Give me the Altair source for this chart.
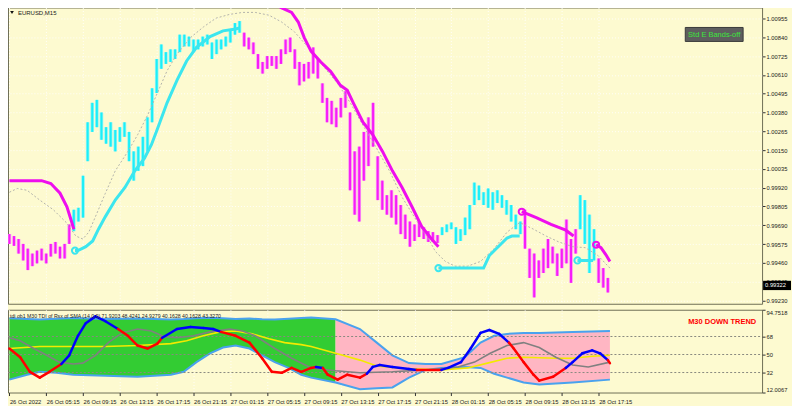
import json
import altair as alt
import pandas as pd

# ---------------- data ----------------
x_labels = ["26 Oct 2022", "26 Oct 05:15", "26 Oct 09:15", "26 Oct 13:15", "26 Oct 17:15",
            "26 Oct 21:15", "27 Oct 01:15", "27 Oct 05:15", "27 Oct 09:15", "27 Oct 13:15",
            "27 Oct 17:15", "27 Oct 21:15", "28 Oct 01:15", "28 Oct 05:15", "28 Oct 09:15",
            "28 Oct 13:15", "28 Oct 17:15"]
bars_per_label = 16

price_ticks = [0.99230, 0.99345, 0.99460, 0.99575, 0.99690, 0.99805, 0.99920, 1.00035,
               1.00150, 1.00265, 1.00380, 1.00495, 1.00610, 1.00725, 1.00840, 1.00955]
current_price = 0.99322

# candles (one entry per two M15 bars): high / low
candle_hi = [0.99636, 0.99624, 0.99606, 0.99576, 0.99547, 0.99517, 0.99535, 0.99547, 0.99517, 0.99576,
             0.99588, 0.99559, 0.99576, 0.99695, 0.99785, 0.99797, 0.99993, 1.00320, 1.00439, 1.00457,
             1.00380, 1.00290, 1.00320, 1.00273, 1.00290, 1.00320, 1.00261, 1.00142, 1.00171, 1.00231,
             1.00350, 1.00528, 1.00707, 1.00796, 1.00749, 1.00766, 1.00766, 1.00856, 1.00856, 1.00844,
             1.00826, 1.00826, 1.00844, 1.00856, 1.00808, 1.00826, 1.00826, 1.00844, 1.00885, 1.00927,
             1.00939, 1.00868, 1.00838, 1.00808, 1.00737, 1.00689, 1.00725, 1.00725, 1.00725, 1.00766,
             1.00826, 1.00838, 1.00766, 1.00689, 1.00677, 1.00689, 1.00778, 1.00707, 1.00558, 1.00469,
             1.00451, 1.00409, 1.00469, 1.00510, 1.00380, 1.00142, 1.00171, 1.00261, 1.00350, 1.00439,
             1.00112, 0.99963, 0.99874, 0.99904, 0.99874, 0.99814, 0.99755, 0.99713, 0.99695, 0.99707,
             0.99678, 0.99654, 0.99648, 0.99630, 0.99678, 0.99695, 0.99707, 0.99678, 0.99666, 0.99737,
             0.99814, 0.99951, 0.99933, 0.99892, 0.99915, 0.99892, 0.99904, 0.99874, 0.99844, 0.99814,
             0.99755, 0.99713, 0.99785, 0.99547, 0.99517, 0.99475, 0.99547, 0.99606, 0.99559, 0.99517,
             0.99547, 0.99725, 0.99606, 0.99666, 0.99874, 0.99844, 0.99755, 0.99666, 0.99487, 0.99428,
             0.99368]
candle_lo = [0.99576, 0.99564, 0.99517, 0.99475, 0.99416, 0.99440, 0.99457, 0.99475, 0.99457, 0.99499,
             0.99517, 0.99487, 0.99487, 0.99576, 0.99654, 0.99713, 0.99737, 1.00082, 1.00261, 1.00290,
             1.00213, 1.00189, 1.00171, 1.00142, 1.00201, 1.00231, 1.00082, 0.99963, 1.00023, 1.00052,
             1.00142, 1.00320, 1.00499, 1.00647, 1.00677, 1.00689, 1.00707, 1.00749, 1.00784, 1.00784,
             1.00749, 1.00766, 1.00784, 1.00796, 1.00707, 1.00737, 1.00766, 1.00784, 1.00808, 1.00856,
             1.00868, 1.00784, 1.00766, 1.00737, 1.00647, 1.00618, 1.00647, 1.00665, 1.00647, 1.00677,
             1.00737, 1.00749, 1.00647, 1.00546, 1.00570, 1.00588, 1.00618, 1.00588, 1.00439, 1.00320,
             1.00308, 1.00290, 1.00350, 1.00409, 0.99904, 0.99755, 0.99713, 0.99963, 1.00052, 1.00171,
             0.99844, 0.99785, 0.99755, 0.99737, 0.99695, 0.99636, 0.99606, 0.99559, 0.99594, 0.99618,
             0.99606, 0.99588, 0.99588, 0.99582, 0.99630, 0.99648, 0.99666, 0.99576, 0.99594, 0.99630,
             0.99666, 0.99814, 0.99844, 0.99814, 0.99797, 0.99785, 0.99826, 0.99797, 0.99755, 0.99713,
             0.99666, 0.99636, 0.99547, 0.99368, 0.99249, 0.99368, 0.99398, 0.99428, 0.99457, 0.99380,
             0.99428, 0.99457, 0.99338, 0.99517, 0.99666, 0.99576, 0.99398, 0.99475, 0.99338, 0.99309,
             0.99279]
bars_per_candle = 2
trend_runs = [("dn", 14), ("up", 37), ("dn", 43), ("up", 18), ("dn", 12), ("up", 4), ("dn", 3)]

# trend stop line segments: (trend, bar positions, prices, ring marker at start)
trend_segments = [
    ("dn", [0, 14, 18, 22, 25, 27, 28],
     [0.99963, 0.99963, 0.99945, 0.99886, 0.99803, 0.99713, 0.99666], False),
    ("up", [28.5, 29.8, 33.2, 36.2, 38.7, 41.7, 46, 50.2, 54.5, 58.7, 61.7, 64.3, 68.5, 72.8, 77,
            81.3, 87.2, 92.8, 98.3, 100],
     [0.99535, 0.99535, 0.99559, 0.99594, 0.99666, 0.99743, 0.99844, 0.99921, 1.00023, 1.00100,
      1.00183, 1.00279, 1.00439, 1.00576, 1.00695, 1.00778, 1.00844, 1.00879, 1.00891, 1.00897], True),
    ("dn", [114.9, 117.9, 122.6, 125.5, 128.1, 131.1, 135.3, 139.6, 143.8, 146.8, 149.4, 153.6,
            157.9, 162.1, 166.4, 170.6, 174.9, 179.1, 183.4, 186.4],
     [1.01070, 1.01022, 1.00992, 1.00933, 1.00838, 1.00754, 1.00689, 1.00630, 1.00546, 1.00516,
      1.00439, 1.00320, 1.00243, 1.00142, 1.00023, 0.99921, 0.99803, 0.99683, 0.99606, 0.99559], False),
    ("up", [186.4, 206, 208.5, 212.8, 216.2, 218.3, 221.7],
     [0.99428, 0.99428, 0.99505, 0.99565, 0.99612, 0.99624, 0.99624], True),
    ("dn", [222.6, 228.9, 235.3, 241.7, 245.1],
     [0.99773, 0.99737, 0.99695, 0.99660, 0.99624], True),
    ("up", [246.8, 253.6], [0.99475, 0.99475], True),
    ("dn", [254.9, 257, 259.1, 260.9], [0.99571, 0.99553, 0.99511, 0.99469], True),
]

# slow dotted average
ma_bar = [0, 3.4, 7.7, 13.2, 19.1, 24.7, 28.9, 31.9, 34.5, 37.4, 41.7, 46, 51.5, 55.7, 60, 64.3,
          68.5, 72.8, 78.7, 84.3, 89.8, 95.7, 101.3, 106.8, 112.8, 118.3, 123.8, 129.8, 136.6,
          142.6, 148.1, 153.6, 159.6, 165.1, 170.6, 176.6, 182.1, 185.1, 189.4, 193.6, 199.1,
          204.7, 210.6, 216.2, 221.7, 227.7, 233.2, 238.7, 244.7, 250.2, 255.7, 260.9]
ma_price = [0.99892, 0.99915, 0.99904, 0.99844, 0.99785, 0.99707, 0.99624, 0.99606, 0.99648,
            0.99743, 0.99886, 1.00023, 1.00142, 1.00243, 1.00362, 1.00499, 1.00635, 1.00737,
            1.00838, 1.00903, 1.00957, 1.00980, 1.00992, 1.00992, 1.00975, 1.00933, 1.00874,
            1.00778, 1.00659, 1.00558, 1.00439, 1.00302, 1.00159, 1.00023, 0.99862, 0.99725,
            0.99606, 0.99529, 0.99469, 0.99440, 0.99440, 0.99469, 0.99547, 0.99648, 0.99707,
            0.99666, 0.99624, 0.99588, 0.99559, 0.99553, 0.99505, 0.99428]

# ---- TDI panel ----
tdi_ticks = [12.0067, 32, 50, 68, 94.7518]
tdi_levels = [68, 50, 32]
band_bar = [0, 7.7, 13.2, 20.4, 27.7, 41.7, 55.7, 70.2, 75.7, 81.3, 87.2, 92.8, 98.3, 104.3,
            109.8, 115.3, 121.3, 126.8, 131.1, 141.7, 152.3, 159.6, 166.4, 173.6, 180.9, 187.7,
            197.9, 204.7, 210.6, 216.2, 223.4, 230.2, 244.7, 260.9]
band_up = [86.2, 85.6, 85.0, 85.8, 86.5, 85.4, 86.0, 85.0, 85.5, 86.3, 86.8, 86.2, 85.6, 85.9,
           85.2, 84.9, 85.8, 86.4, 87.0, 85.2, 75.5, 61.9, 49.2, 41.4, 40.5, 40.5, 47.3, 61.9,
           68.7, 70.6, 71.6, 71.6, 72.6, 73.5]
band_dn = [24.9, 29.8, 32.7, 31.7, 29.8, 28.8, 27.8, 29.8, 32.7, 42.4, 51.2, 57.0, 59.0, 56.0,
           49.2, 42.4, 36.6, 29.8, 26.9, 22.0, 15.2, 16.2, 17.1, 26.9, 34.6, 36.6, 37.6, 36.6,
           30.8, 26.9, 22.0, 20.0, 22.0, 24.9]
trend_switch_bar = 141.7

base_bar = [0, 13.2, 27.7, 41.7, 55.7, 70.2, 77, 84.3, 91.5, 98.3, 105.5, 112.8, 119.6, 126.8,
            131.1, 141.7, 152.3, 159.6, 173.6, 187.7, 199.1, 207.7, 216.2, 223.4, 237.4, 244.7,
            253.2, 260.9]
base_val = [56.0, 58.0, 58.0, 58.0, 59.0, 60.9, 63.8, 68.7, 72.6, 73.5, 70.6, 65.8, 61.9, 59.9,
            58.0, 51.2, 44.4, 38.5, 35.6, 34.6, 36.6, 41.4, 46.3, 47.3, 46.3, 46.3, 48.2, 49.2]

slow_bar = [0, 4.7, 10.6, 16.2, 21.7, 27.7, 31.9, 37.4, 43, 48.9, 55.7, 61.7, 67.2, 72.8, 80,
            87.2, 95.7, 101.3, 106.8, 115.3, 122.6, 131.1, 141.7, 152.3, 166.4, 180.9, 194.9,
            202.1, 208.9, 216.2, 223.4, 230.2, 237.4, 244.7, 251.5, 260.9]
slow_val = [66.7, 63.8, 56.0, 49.2, 42.4, 40.5, 41.4, 49.2, 61.9, 71.6, 75.5, 73.5, 67.7, 66.7,
            68.7, 72.6, 75.5, 73.5, 68.7, 56.0, 46.3, 36.6, 33.7, 31.7, 32.7, 34.6, 37.6, 42.4,
            51.2, 59.0, 61.9, 57.0, 47.3, 39.5, 37.6, 42.4]

rsi_bar = [0, 4.7, 8.9, 13.2, 17.4, 22.6, 26, 29.8, 33.2, 37.4, 41.7, 47.2, 51.5, 55.7, 60, 64.3,
           66.4, 72.8, 78.7, 84.3, 88.5, 91.9, 98.3, 104.3, 109.8, 114, 118.3, 122.6, 126.8, 131.1,
           133.2, 136.2, 138.3, 142.6, 146.8, 152.3, 155.3, 157.9, 160.9, 166.4, 173.6, 177,
           187.7, 190.6, 196.2, 200.4, 204.7, 208.5, 212.8, 217, 219.1, 223.4, 227.7, 230.2,
           236.2, 241.7, 244.7, 248.9, 253.2, 256.6, 260, 260.9]
rsi_val = [56.0, 47.3, 32.7, 26.9, 32.7, 40.5, 49.2, 68.7, 81.3, 88.1, 83.3, 75.5, 68.7, 59.0,
           56.0, 60.9, 66.7, 75.5, 77.4, 76.5, 75.5, 72.6, 68.7, 61.9, 46.3, 32.7, 31.7, 36.6,
           32.7, 36.6, 37.6, 36.6, 29.8, 24.9, 29.8, 26.9, 30.8, 37.6, 39.5, 37.6, 35.6, 34.6,
           34.6, 36.6, 42.4, 56.0, 71.6, 74.5, 70.6, 61.9, 56.0, 42.4, 29.8, 23.9, 27.8, 36.6,
           42.4, 51.2, 54.1, 51.2, 44.4, 41.4]
rsi_runs = [("r", 5), ("b", 6), ("r", 5), ("b", 5), ("r", 9), ("b", 1), ("r", 5), ("b", 5),
            ("r", 1), ("b", 7), ("r", 6), ("b", 5), ("r", 1)]

tdi_title = "tdi ob1 M30 TDI of Rsx of SMA (14,0,0) 71.9203 48.4241 24.9279 40.1628 40.1628 43.3270"

# ---------------- style ----------------
W, H1, H2 = 756, 297, 83
BG = "#FDFAD0"
FRAME = "#6E6E55"
GRID = "#FFFFFF"
CYAN = "#1CEFF7"
MAGENTA = "#F81CF8"
CYAN_WICK = "#95F5F4"
MAGENTA_WICK = "#F99AF3"
CYAN_LINE = "#3CE6EE"
MAGENTA_LINE = "#EE0EEE"
FONT = "Liberation Sans"

tick_bars = [i * bars_per_label for i in range(len(x_labels))]
X_SCALE = alt.Scale(domain=[-0.6, 327], nice=False, zero=False)
P_SCALE = alt.Scale(domain=[0.99210, 1.01022], nice=False, zero=False)
T_SCALE = alt.Scale(domain=[12.0067, 94.7518], nice=False, zero=False)

x_main_axis = alt.Axis(values=tick_bars, labels=False, ticks=False, domain=False, grid=True,
                       title=None)
y_main_axis = alt.Axis(orient="right", values=price_ticks, format=".5f", title=None, grid=True,
                       tickSize=3, labelPadding=1, domain=False)


def mx(f):
    return alt.X(f"{f}:Q", scale=X_SCALE, axis=x_main_axis)


def my(f):
    return alt.Y(f"{f}:Q", scale=P_SCALE, axis=y_main_axis)


# ---- main panel dataframes ----
trend_list = []
for t, n in trend_runs:
    trend_list += [t] * n
candles = pd.DataFrame({
    "bar": [k * bars_per_candle for k in range(len(candle_hi))],
    "hi": candle_hi, "lo": candle_lo, "trend": trend_list,
})
candles["body_trend"] = candles["trend"]

seg_rows, ring_rows = [], []
for sid, (t, xs, ps, ring) in enumerate(trend_segments):
    for xv, pv in zip(xs, ps):
        seg_rows.append({"seg": sid, "bar": xv, "price": pv, "line_trend": t})
    if ring:
        ring_rows.append({"bar": xs[0], "price": ps[0], "line_trend": t})
segs = pd.DataFrame(seg_rows)
rings = pd.DataFrame(ring_rows)
ma = pd.DataFrame({"bar": ma_bar, "price": ma_price})
one = pd.DataFrame({"a": [0]})

LINE_COLOR = alt.Scale(domain=["up", "dn"], range=[CYAN_LINE, MAGENTA_LINE])

wick_layer = alt.Chart(candles).mark_rule(strokeWidth=3.6).encode(
    x=mx("bar"), y=my("lo"), y2="hi:Q",
    color=alt.Color("trend:N", scale=alt.Scale(domain=["up", "dn"], range=[CYAN_WICK, MAGENTA_WICK]),
                    legend=None))
body_layer = alt.Chart(candles).mark_rule(strokeWidth=2).encode(
    x=mx("bar"), y=my("lo"), y2="hi:Q",
    color=alt.Color("body_trend:N", scale=alt.Scale(domain=["up", "dn"], range=[CYAN, MAGENTA]),
                    legend=None))

ma_layer = alt.Chart(ma).mark_line(color="#B4B4AC", strokeWidth=1, strokeDash=[2, 2]).encode(
    x=mx("bar"), y=my("price"))

seg_layer = alt.Chart(segs).mark_line(strokeWidth=3, clip=True).encode(
    x=mx("bar"), y=my("price"), detail="seg:N",
    color=alt.Color("line_trend:N", scale=LINE_COLOR, legend=None))

ring_layer = alt.Chart(rings).mark_point(shape="circle", filled=False, size=38, strokeWidth=2,
                                         opacity=1).encode(
    x=mx("bar"), y=my("price"),
    color=alt.Color("line_trend:N", scale=LINE_COLOR, legend=None))

sym_tri = alt.Chart(one).mark_point(shape="triangle-down", filled=True, color="#111111", size=14,
                                    opacity=1).encode(x=alt.value(4), y=alt.value(5))
sym_txt = alt.Chart(one).mark_text(text="EURUSD,M15", font=FONT, fontSize=6, align="left",
                                   baseline="middle", color="#1A1A1A").encode(
    x=alt.value(10), y=alt.value(5.5))

btn = alt.Chart(one).mark_rect(fill="#5E5E5E", stroke="#3A3A3A", strokeWidth=1).encode(
    x=alt.value(679), x2=alt.value(737), y=alt.value(20), y2=alt.value(34))
btn_txt = alt.Chart(one).mark_text(text="Std E Bands-off", font=FONT, fontSize=7.5, align="center",
                                   baseline="middle", color="#3CE63C").encode(
    x=alt.value(708), y=alt.value(27.5))

cur = pd.DataFrame({"p": [current_price]})
cur_box = alt.Chart(cur).mark_point(shape="M-1.5,-0.5H1.5V0.5H-1.5Z", filled=True, color="#000000",
                                    size=348, opacity=1).encode(x=alt.value(W + 15), y=my("p"))
cur_txt = alt.Chart(cur).mark_text(font=FONT, fontSize=5.8, align="left", baseline="middle",
                                   color="#FFFFFF").encode(
    x=alt.value(W + 3), y=my("p"), text=alt.Text("p:Q", format=".5f"))

main = alt.layer(wick_layer, body_layer, ma_layer, seg_layer, ring_layer, sym_tri, sym_txt, btn,
                 btn_txt, cur_box, cur_txt).resolve_scale(color="independent").properties(
    width=W, height=H1)

# ---- TDI panel ----
label_expr = json.dumps(x_labels) + "[round(datum.value / %d)]" % bars_per_label
x_tdi_axis = alt.Axis(values=tick_bars, labelExpr=label_expr, labelAlign="left", labelPadding=3,
                      tickSize=3, grid=True, domain=False, title=None, labelOverlap=False,
                      labelBound=False, labelFlush=False)
y_tdi_axis = alt.Axis(orient="right", values=tdi_ticks, title=None, grid=False, tickSize=3,
                      labelPadding=1, domain=False, labelFlush=True,
                      labelExpr="datum.value == 32 || datum.value == 50 || datum.value == 68 ? "
                                "format(datum.value, 'd') : format(datum.value, '.4f')")


def tx(f):
    return alt.X(f"{f}:Q", scale=X_SCALE, axis=x_tdi_axis)


def ty(f):
    return alt.Y(f"{f}:Q", scale=T_SCALE, axis=y_tdi_axis)


bands = pd.DataFrame({"bar": band_bar, "up": band_up, "dn": band_dn})
green = bands[bands["bar"] <= trend_switch_bar]
pink = bands[bands["bar"] >= trend_switch_bar]

green_area = alt.Chart(green).mark_area(color="#33CC33", opacity=1).encode(
    x=tx("bar"), y=ty("up"), y2="dn:Q")
pink_area = alt.Chart(pink).mark_area(color="#FFB6C3", opacity=1).encode(
    x=tx("bar"), y=ty("up"), y2="dn:Q")
band_up_line = alt.Chart(bands).mark_line(color="#4AA2EE", strokeWidth=2).encode(
    x=tx("bar"), y=ty("up"))
band_dn_line = alt.Chart(bands).mark_line(color="#4AA2EE", strokeWidth=2).encode(
    x=tx("bar"), y=ty("dn"))
levels = alt.Chart(pd.DataFrame({"v": tdi_levels})).mark_rule(
    color="#8A8A80", strokeWidth=1, strokeDash=[2, 2]).encode(
    y=ty("v"), x=alt.value(0), x2=alt.value(W))
base_line = alt.Chart(pd.DataFrame({"bar": base_bar, "v": base_val})).mark_line(
    color="#F2EA00", strokeWidth=1.6).encode(x=tx("bar"), y=ty("v"))
slow_line = alt.Chart(pd.DataFrame({"bar": slow_bar, "v": slow_val})).mark_line(
    color="#808080", strokeWidth=1.6).encode(x=tx("bar"), y=ty("v"))

rsi_col = []
for c, n in rsi_runs:
    rsi_col += [c] * n
rsi_rows = []
for j in range(len(rsi_bar) - 1):
    rsi_rows.append({"seg": j, "bar": rsi_bar[j], "v": rsi_val[j], "c": rsi_col[j]})
    rsi_rows.append({"seg": j, "bar": rsi_bar[j + 1], "v": rsi_val[j + 1], "c": rsi_col[j]})
rsi_line = alt.Chart(pd.DataFrame(rsi_rows)).mark_line(strokeWidth=2.5, strokeCap="round").encode(
    x=tx("bar"), y=ty("v"), detail="seg:N",
    color=alt.Color("c:N", scale=alt.Scale(domain=["b", "r"], range=["#0000FF", "#FF0000"]),
                    legend=None))

tdi_txt = alt.Chart(one).mark_text(text=tdi_title, font=FONT, fontSize=5.2, align="left",
                                   baseline="middle", color="#222222").encode(
    x=alt.value(2), y=alt.value(5.8))
trend_txt = alt.Chart(one).mark_text(text="M30 DOWN TREND", font=FONT, fontSize=7.5,
                                     fontWeight="bold", align="center", baseline="middle",
                                     color="#FF0000").encode(x=alt.value(716), y=alt.value(12))

tdi = alt.layer(green_area, pink_area, band_up_line, band_dn_line, levels, base_line, slow_line,
                rsi_line, tdi_txt, trend_txt).properties(width=W, height=H2)

PAD = {"left": -5, "top": -2, "right": 0, "bottom": 0}
chart = alt.vconcat(main, tdi, spacing=4).resolve_scale(color="independent").properties(
    padding=PAD, background=BG
).configure_view(fill=BG, stroke=FRAME, strokeWidth=1).configure_axis(
    labelFont=FONT, labelFontSize=5.8, labelColor="#1A1A1A", tickColor="#333333",
    gridColor=GRID, gridDash=[1, 2], gridOpacity=0.9)

chart.save("out.html", embed_options={"renderer": "svg", "actions": False})
